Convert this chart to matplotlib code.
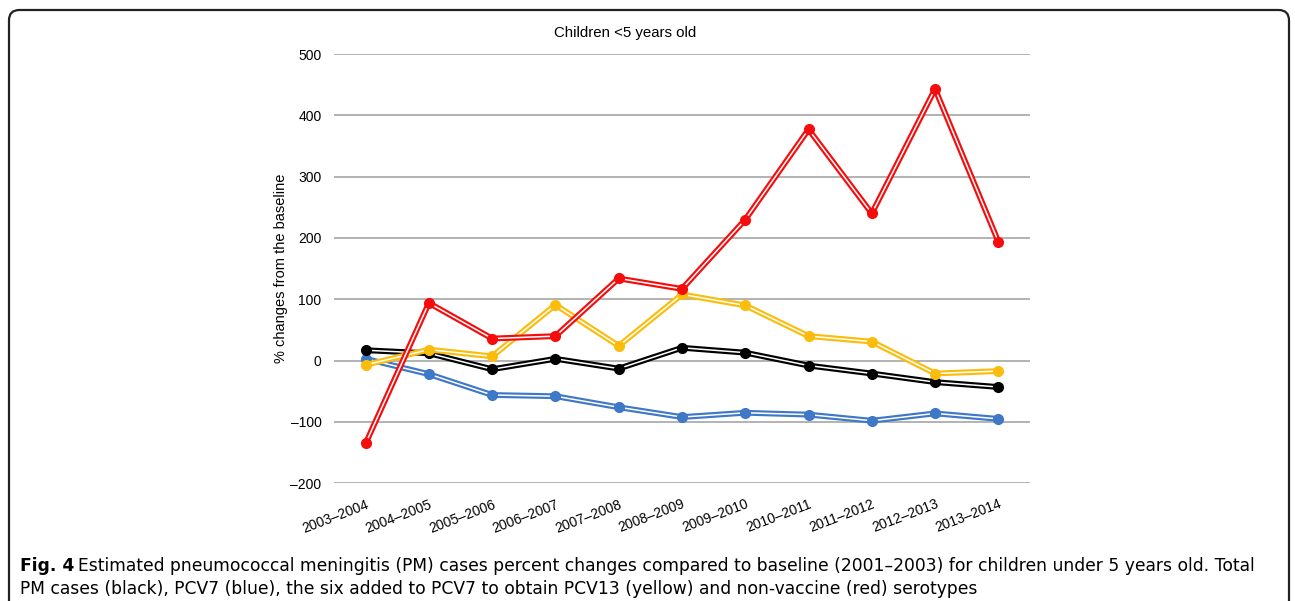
import matplotlib
matplotlib.use("Agg")
import matplotlib.pyplot as plt
from matplotlib.patches import FancyBboxPatch

# data
seasons = ["2003\u20132004", "2004\u20132005", "2005\u20132006", "2006\u20132007",
           "2007\u20132008", "2008\u20132009", "2009\u20132010", "2010\u20132011",
           "2011\u20132012", "2012\u20132013", "2013\u20132014"]
total_pm = [17, 12, -14, 3, -13, 21, 13, -8, -21, -35, -43]
pcv7 = [3, -22, -56, -58, -76, -92, -85, -88, -98, -86, -95]
pcv13_extra = [-7, 18, 7, 91, 24, 108, 90, 40, 31, -21, -17]
non_vaccine = [-135, 94, 36, 40, 134, 117, 230, 377, 240, 443, 194]
yticks = [-200, -100, 0, 100, 200, 300, 400, 500]

W, H = 1295, 601
plt.rcParams["font.family"] = ["Liberation Sans", "DejaVu Sans"]

fig = plt.figure(figsize=(W / 100, H / 100), dpi=100)
ax = fig.add_axes([334 / W, 1 - 483.3 / H, 696 / W, 429.3 / H])

series = [
    (pcv7, "#3f78c6"),
    (total_pm, "#000000"),
    (pcv13_extra, "#fbbd0d"),
    (non_vaccine, "#f50d0d"),
]
x = list(range(len(seasons)))
z = 3
for vals, col in series:
    ax.plot(x, vals, color=col, lw=4.2, solid_capstyle="round", zorder=z)
    ax.plot(x, vals, color="white", lw=1.1, zorder=z + 0.1)
    ax.plot(x, vals, ls="none", marker="o", ms=7, color=col, zorder=z + 0.2)
    z += 1

ax.set_xlim(-0.5, 10.5)
ax.set_ylim(-200, 500)
ax.set_yticks(yticks)
ax.set_yticklabels([str(v).replace("-", "\u2013") for v in yticks], fontsize=10)
ax.yaxis.grid(True, color="#a5a5a5", lw=1.2)
ax.set_axisbelow(True)
ax.tick_params(axis="y", length=0, pad=9)
ax.tick_params(axis="x", length=0, pad=10)
ax.set_xticks(x)
ax.set_xticklabels(seasons, fontsize=10, rotation=21, ha="right", va="top",
                   rotation_mode="anchor")
for s in ax.spines.values():
    s.set_visible(False)
ax.set_ylabel("% changes from the baseline", fontsize=10.5, labelpad=2)

fig.text(625 / W, 1 - 33 / H, "Children <5 years old", fontsize=10.8,
         ha="center", va="center")

# rounded frame around the figure
frame = FancyBboxPatch((9 / W, -0.1), 1280 / W, 1.1 - 10 / H,
                       boxstyle="round,pad=0,rounding_size=0.008",
                       transform=fig.transFigure, fill=False,
                       ec="#222222", lw=1.6, mutation_aspect=W / H)
fig.patches.append(frame)

# caption
cap_font = ["DejaVu Sans"]
fig.canvas.draw()
bold = fig.text(20 / W, 1 - 566 / H, "Fig. 4", fontsize=12.3, fontweight="bold",
                family=cap_font, va="center")
r = fig.canvas.get_renderer()
bb = bold.get_window_extent(r)
fig.text((bb.x1 + 4) / W, 1 - 566 / H,
         "Estimated pneumococcal meningitis (PM) cases percent changes compared to "
         "baseline (2001\u20132003) for children under 5 years old. Total",
         fontsize=12.3, family=cap_font, va="center")
fig.text(20 / W, 1 - 589 / H,
         "PM cases (black), PCV7 (blue), the six added to PCV7 to obtain PCV13 "
         "(yellow) and non-vaccine (red) serotypes",
         fontsize=12.3, family=cap_font, va="center")

fig.savefig("out.png", dpi=100)
